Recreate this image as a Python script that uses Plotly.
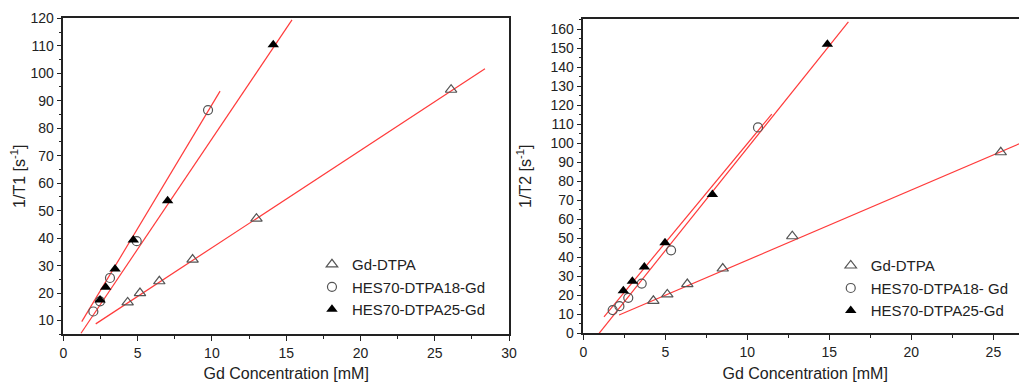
import plotly.graph_objects as go

# ---------------- data: left panel (1/T1) ----------------
t1_dtpa_x = [4.33, 5.16, 6.46, 8.7, 13.0, 26.1]
t1_dtpa_y = [16.6, 20.0, 24.3, 32.2, 47.1, 94.0]
t1_hes18_x = [2.02, 2.47, 3.14, 4.94, 9.74]
t1_hes18_y = [13.3, 17.0, 25.5, 38.9, 86.6]
t1_hes25_x = [2.47, 2.85, 3.48, 4.71, 7.02, 14.13]
t1_hes25_y = [17.5, 22.1, 28.8, 39.3, 53.6, 110.4]
# fitted lines (end points)
t1_dtpa_fit_x = [2.18, 28.38]
t1_dtpa_fit_y = [8.8, 101.6]
t1_hes18_fit_x = [1.24, 10.55]
t1_hes18_fit_y = [9.6, 93.5]
t1_hes25_fit_x = [1.19, 15.39]
t1_hes25_fit_y = [5.4, 119.4]

# ---------------- data: right panel (1/T2) ----------------
t2_dtpa_x = [4.27, 5.12, 6.34, 8.5, 12.74, 25.45]
t2_dtpa_y = [17.1, 20.5, 25.9, 34.1, 51.1, 95.3]
t2_hes18_x = [1.79, 2.2, 2.74, 3.56, 5.35, 10.65]
t2_hes18_y = [12.2, 14.3, 18.7, 26.2, 43.7, 108.4]
t2_hes25_x = [2.44, 2.99, 3.72, 4.98, 7.87, 14.88]
t2_hes25_y = [22.4, 27.4, 34.9, 47.7, 73.1, 152.2]
t2_dtpa_fit_x = [2.18, 28.0]
t2_dtpa_fit_y = [9.6, 105.0]
t2_hes18_fit_x = [1.26, 11.49]
t2_hes18_fit_y = [8.7, 115.4]
t2_hes25_fit_x = [0.96, 16.16]
t2_hes25_fit_y = [0.0, 164.0]

names_left = ["Gd-DTPA", "HES70-DTPA18-Gd", "HES70-DTPA25-Gd"]
names_right = ["Gd-DTPA", "HES70-DTPA18- Gd", "HES70-DTPA25-Gd"]

x_ticks_left = [0, 5, 10, 15, 20, 25, 30]
y_ticks_left = list(range(10, 121, 10))
x_ticks_right = [0, 5, 10, 15, 20, 25]
y_ticks_right = list(range(0, 161, 10))

RED = "#ff3b3b"
GRAY = "#555555"
FONT = "Liberation Sans, Arial, sans-serif"

fig = go.Figure()

def add_panel(xa, ya, legend, names, data, fits):
    for (fx, fy) in fits:
        fig.add_trace(go.Scatter(x=fx, y=fy, mode="lines", line=dict(color=RED, width=1.2),
                                 showlegend=False, xaxis=xa, yaxis=ya, hoverinfo="skip"))
    styles = [
        dict(symbol="triangle-up-open", color=GRAY, size=10, line=dict(color=GRAY, width=1.2)),
        dict(symbol="circle-open", color=GRAY, size=9, line=dict(color=GRAY, width=1.2)),
        dict(symbol="triangle-up", color="black", size=10, line=dict(color="black", width=0)),
    ]
    for name, (dx, dy), st in zip(names, data, styles):
        fig.add_trace(go.Scatter(x=dx, y=dy, mode="markers", name=name, marker=st,
                                 xaxis=xa, yaxis=ya, legend=legend))

add_panel("x", "y", "legend", names_left,
          [(t1_dtpa_x, t1_dtpa_y), (t1_hes18_x, t1_hes18_y), (t1_hes25_x, t1_hes25_y)],
          [(t1_dtpa_fit_x, t1_dtpa_fit_y), (t1_hes18_fit_x, t1_hes18_fit_y), (t1_hes25_fit_x, t1_hes25_fit_y)])
add_panel("x2", "y2", "legend2", names_right,
          [(t2_dtpa_x, t2_dtpa_y), (t2_hes18_x, t2_hes18_y), (t2_hes25_x, t2_hes25_y)],
          [(t2_dtpa_fit_x, t2_dtpa_fit_y), (t2_hes18_fit_x, t2_hes18_fit_y), (t2_hes25_fit_x, t2_hes25_fit_y)])

axis_common = dict(showgrid=False, zeroline=False, showline=True, linecolor="#222", linewidth=1.5,
                   ticks="outside", ticklen=5, tickwidth=1.2, tickcolor="#222", automargin=False,
                   tickfont=dict(family=FONT, size=14, color="#222"))
minor = dict(ticks="outside", ticklen=3, tickwidth=1, tickcolor="#222", showgrid=False)
title_font = dict(size=16, family=FONT, color="#222")

# page body has an 8px margin, so the figure is sized to the remaining area
fig.update_layout(
    width=1019, height=374, margin=dict(l=0, r=0, t=0, b=0),
    plot_bgcolor="white", paper_bgcolor="white",
    font=dict(family=FONT, color="#222"),
    xaxis=dict(axis_common, domain=[0.0543, 0.4917], range=[0, 30], tickvals=x_ticks_left,
               mirror=True, minor=dict(minor, dtick=2.5, tick0=0),
               title=dict(text="Gd Concentration [mM]", font=title_font)),
    yaxis=dict(axis_common, domain=[0.1275, 0.9725], range=[5, 120], tickvals=y_ticks_left,
               mirror=True, minor=dict(minor, dtick=5, tick0=0),
               title=dict(text="1/T1 [s<sup>-1</sup>]", font=title_font)),
    xaxis2=dict(axis_common, domain=[0.5646, 1.0], range=[0, 27.05], tickvals=x_ticks_right,
                mirror=True, anchor="y2", minor=dict(minor, dtick=2.5, tick0=0),
                title=dict(text="Gd Concentration [mM]", font=title_font)),
    yaxis2=dict(axis_common, domain=[0.1302, 0.9698], range=[0, 165.3], tickvals=y_ticks_right,
                mirror=False, anchor="x2", minor=dict(minor, dtick=5, tick0=0),
                title=dict(text="1/T2 [s<sup>-1</sup>]", font=title_font)),
    legend=dict(x=0.2983, y=0.358, xanchor="left", yanchor="top", bgcolor="rgba(0,0,0,0)",
                font=dict(size=15, family=FONT, color="#222"), tracegroupgap=0),
    legend2=dict(x=0.8074, y=0.355, xanchor="left", yanchor="top", bgcolor="rgba(0,0,0,0)",
                 font=dict(size=15, family=FONT, color="#222"), tracegroupgap=0),
)

fig.write_html("out.html")
